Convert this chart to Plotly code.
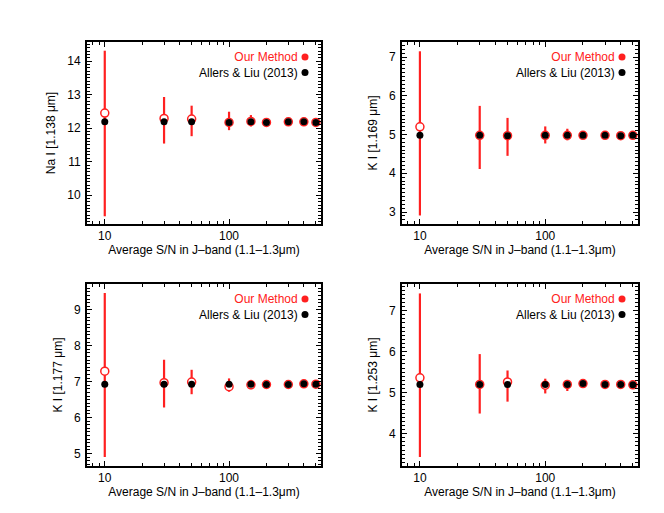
import plotly.graph_objects as go
from plotly.subplots import make_subplots

# signal-to-noise values (x axis, shared by all panels)
sn = [10, 30, 50, 100, 150, 200, 300, 400, 500]

# Na I 1.138
na1138_ours = [12.45, 12.29, 12.27, 12.17, 12.20, 12.17, 12.19, 12.19, 12.17]
na1138_up = [1.86, 0.64, 0.40, 0.32, 0.19, 0.08, 0.05, 0.04, 0.03]
na1138_dn = [3.08, 0.75, 0.51, 0.23, 0.15, 0.08, 0.05, 0.04, 0.03]
na1138_al = [12.19, 12.19, 12.19, 12.17, 12.19, 12.17, 12.19, 12.19, 12.17]

# K I 1.169
k1169_ours = [5.20, 4.98, 4.97, 4.98, 4.98, 4.98, 4.98, 4.97, 4.98]
k1169_up = [1.95, 0.76, 0.46, 0.23, 0.17, 0.06, 0.05, 0.04, 0.03]
k1169_dn = [2.29, 0.87, 0.52, 0.21, 0.13, 0.06, 0.05, 0.04, 0.03]
k1169_al = [4.98, 4.98, 4.97, 4.98, 4.98, 4.98, 4.98, 4.97, 4.98]

# K I 1.177
k1177_ours = [7.29, 6.97, 6.99, 6.86, 6.91, 6.92, 6.92, 6.94, 6.93]
k1177_up = [2.18, 0.64, 0.34, 0.23, 0.14, 0.06, 0.05, 0.04, 0.03]
k1177_dn = [2.39, 0.69, 0.34, 0.14, 0.12, 0.06, 0.05, 0.04, 0.03]
k1177_al = [6.93, 6.93, 6.93, 6.93, 6.93, 6.92, 6.92, 6.94, 6.93]

# K I 1.253
k1253_ours = [5.36, 5.20, 5.26, 5.18, 5.20, 5.22, 5.20, 5.20, 5.19]
k1253_up = [2.06, 0.74, 0.28, 0.16, 0.11, 0.06, 0.05, 0.04, 0.03]
k1253_dn = [1.93, 0.71, 0.48, 0.20, 0.16, 0.06, 0.05, 0.04, 0.03]
k1253_al = [5.20, 5.20, 5.20, 5.20, 5.20, 5.22, 5.20, 5.20, 5.19]

panels = [
    ("Na I [1.138 μm]", na1138_ours, na1138_up, na1138_dn, na1138_al, [9.14, 14.57]),
    ("K I [1.169 μm]", k1169_ours, k1169_up, k1169_dn, k1169_al, [2.69, 7.39]),
    ("K I [1.177 μm]", k1177_ours, k1177_up, k1177_dn, k1177_al, [4.65, 9.72]),
    ("K I [1.253 μm]", k1253_ours, k1253_up, k1253_dn, k1253_al, [3.21, 7.65]),
]

W, H = 664, 513
ML, MR, MT, MB = 79, 34, 34, 55
PW, PH = W - ML - MR, H - MT - MB
# panel frames in pixels (left, right, top, bottom)
frames = [(79, 313, 34, 216), (394, 630, 34, 216),
          (79, 313, 276, 458), (394, 630, 276, 458)]

FONT = "Liberation Sans, Arial, Helvetica, sans-serif"
RED = "#ff2020"
FS = 12

fig = make_subplots(rows=2, cols=2)

annotations = []
shapes = []
for i, (ytitle, ours, up, dn, al, yr) in enumerate(panels):
    r, c = i // 2 + 1, i % 2 + 1
    fig.add_trace(go.Scatter(
        x=sn, y=ours, mode="markers", showlegend=False,
        error_y=dict(type="data", array=up, arrayminus=dn, symmetric=False,
                     color=RED, thickness=2.2, width=0),
        marker=dict(symbol="circle", size=8, color="white",
                    line=dict(color=RED, width=1.5))), row=r, col=c)
    fig.add_trace(go.Scatter(
        x=sn, y=al, mode="markers", showlegend=False,
        marker=dict(symbol="circle", size=7, color="black")), row=r, col=c)

    l, rr, t, b = frames[i]
    ax = "" if i == 0 else str(i + 1)
    fig.layout["xaxis" + ax].domain = [(l - ML) / PW, (rr - ML) / PW]
    fig.layout["yaxis" + ax].domain = [1 - (b - MT) / PH, 1 - (t - MT) / PH]
    fig.update_xaxes(type="log", range=[0.857, 2.74], tickvals=[10, 100],
                     ticktext=["10", "100"], row=r, col=c,
                     title=dict(text="Average S/N in J–band (1.1–1.3μm)", standoff=3))
    fig.update_yaxes(range=yr, dtick=1, row=r, col=c,
                     title=dict(text=ytitle, standoff=9))

    # legend: one two-line text block + dots
    yc = t + 22.8
    annotations.append(dict(
        x=(rr - 22 - ML) / PW, y=1 - (yc - MT) / PH, xref="paper", yref="paper",
        text=f"<span style='color:{RED}'>Our Method</span><br>Allers &amp; Liu (2013)",
        showarrow=False, xanchor="right", yanchor="middle", align="right",
        borderpad=0, font=dict(color="black", size=FS, family=FONT)))
    for dy, col in [(-7.8, RED), (7.8, "black")]:
        shapes.append(dict(type="circle", xref="paper", yref="paper",
                           xsizemode="pixel", ysizemode="pixel",
                           xanchor=(rr - 16 - ML) / PW, yanchor=1 - (yc + dy - MT) / PH,
                           x0=-3.5, x1=3.5, y0=-3.5, y1=3.5,
                           fillcolor=col, line=dict(width=0)))

fig.update_xaxes(showgrid=False, zeroline=False, showline=True, linecolor="black",
                 linewidth=2, mirror="allticks", ticks="inside", ticklen=5,
                 tickwidth=1, tickcolor="black",
                 minor=dict(ticks="inside", ticklen=3, tickwidth=1, tickcolor="black",
                            tickvals=[7, 8, 9, 20, 30, 40, 50, 60, 70, 80, 90, 200, 300, 400, 500]),
                 tickfont=dict(size=FS, color="black", family=FONT),
                 title_font=dict(size=FS, color="black", family=FONT))
fig.update_yaxes(showgrid=False, zeroline=False, showline=True, linecolor="black",
                 linewidth=2, mirror="allticks", ticks="inside", ticklen=5,
                 tickwidth=1, tickcolor="black", ticklabelstandoff=2,
                 minor=dict(ticks="inside", ticklen=3, tickwidth=1, tickcolor="black",
                            dtick=0.1),
                 tickfont=dict(size=FS, color="black", family=FONT),
                 title_font=dict(size=FS, color="black", family=FONT))

fig.update_layout(width=W, height=H, margin=dict(l=ML, r=MR, t=MT, b=MB),
                  plot_bgcolor="white", paper_bgcolor="white",
                  font=dict(family=FONT, color="black"),
                  annotations=annotations, shapes=shapes)
fig.write_html("out.html")
